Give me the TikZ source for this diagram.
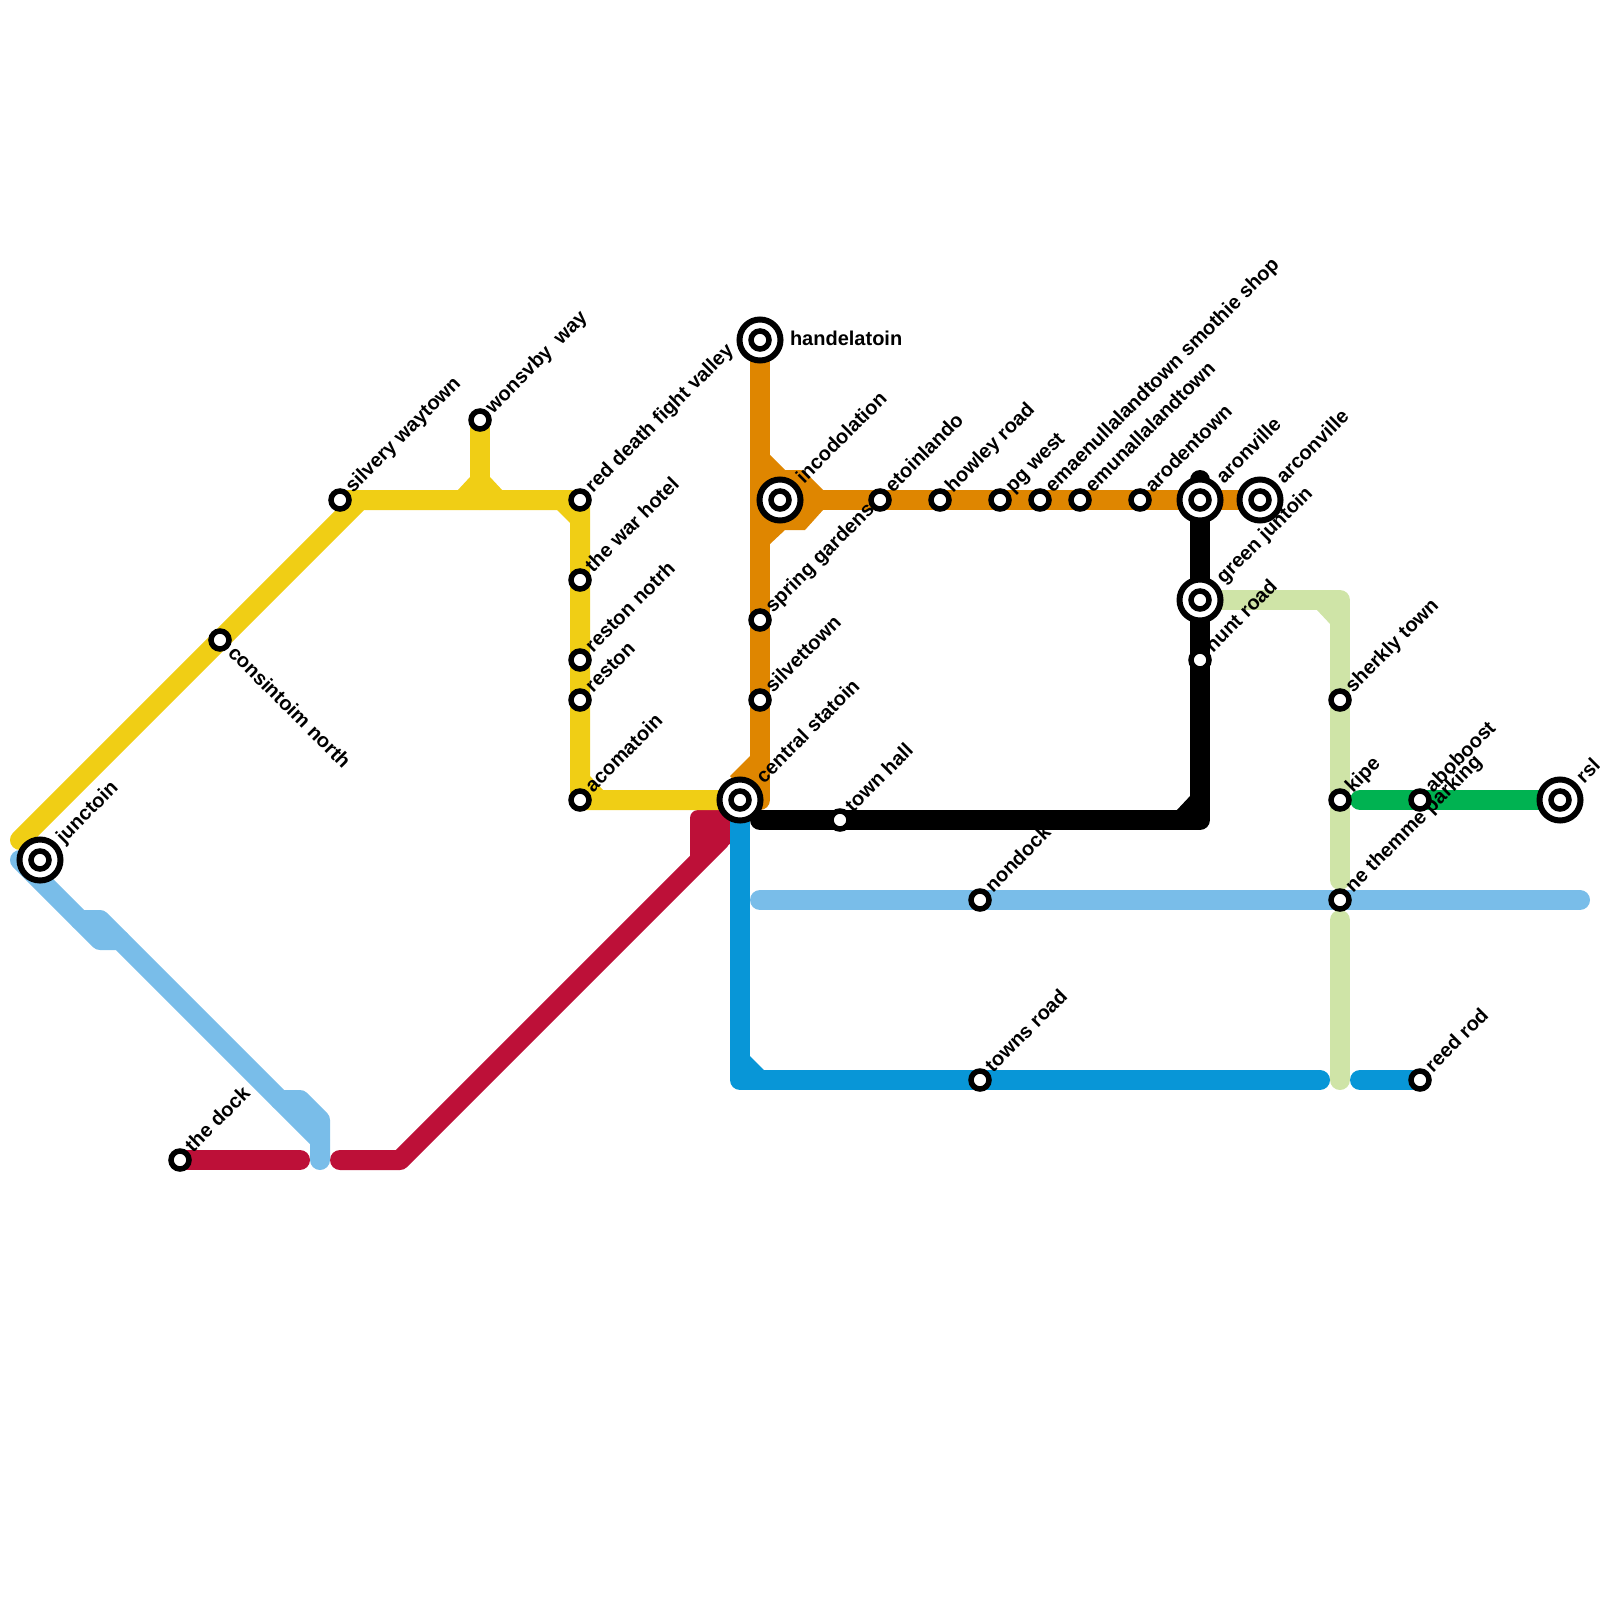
\documentclass[tikz,border=0pt]{standalone}
\usepackage{fontspec}
\setmainfont{Liberation Sans}
\usetikzlibrary{calc}
\definecolor{cred}{HTML}{BD1038}
\definecolor{cyellow}{HTML}{F0CE15}
\definecolor{corange}{HTML}{DF8600}
\definecolor{ccyan}{HTML}{0896D7}
\definecolor{clight}{HTML}{79BDE9}
\definecolor{cpale}{HTML}{CFE4A7}
\definecolor{cgreen}{HTML}{00B251}
\tikzset{
  metro/.style={line width=20pt,line cap=round,line join=round},
  smallstn/.style={circle,draw=black,fill=white,line width=5.5pt,minimum size=18pt,inner sep=0pt,outer sep=0pt},
  bigstn/.style={circle,draw=black,fill=white,line width=6pt,minimum size=41pt,inner sep=0pt,outer sep=0pt},
  lab/.style={anchor=base west,inner sep=0pt,outer sep=0pt,rotate=45,font=\fontsize{20}{24}\selectfont\bfseries},
  labflat/.style={anchor=base west,inner sep=0pt,outer sep=0pt,font=\fontsize{20}{24}\selectfont\bfseries},
}
\begin{document}
\begin{tikzpicture}[x=1pt,y=-1pt]
\useasboundingbox (0,0) rectangle (1600,1600);
% station positions
\foreach \n/\x/\y in {junctoin/40/860,consintoim/220/640,silvery/340/500,wonsvby/480/420,reddeath/580/500,warhotel/580/580,restonn/580/660,reston/580/700,acomatoin/580/800,central/740/800,handelatoin/760/340,incodolation/780/500,spring/760/620,silvettown/760/700,etoinlando/880/500,howley/940/500,pgwest/1000/500,emaen/1040/500,emun/1080/500,arodentown/1140/500,aronville/1200/500,arconville/1260/500,greenj/1200/600,hunt/1200/660,townhall/840/820,nondock/980/900,townsroad/980/1080,sherkly/1340/700,kipe/1340/800,themme/1340/900,aboboost/1420/800,rsl/1560/800,reedrod/1420/1080,dock/180/1160}
  {\coordinate (p\n) at (\x,\y);}
% red
\coordinate (r1) at (300,1160); \coordinate (r2) at (340,1160); \coordinate (r3) at (400,1160); \coordinate (r4) at (720,840);
\draw[metro,cred] (pdock) -- (r1);
\draw[metro,cred] (r2) -- (r3) -- (r4);
\fill[cred] (690,857) {[rounded corners=8pt] -- (690,810) -- (745,810)} -- (745,829) -- (730,844) -- cycle;
% yellow
\coordinate (y0) at (20,840); \coordinate (y1) at (360,500);
\draw[metro,cyellow] (y0) -- (y1) -- (preddeath) -- (pacomatoin) -- (pcentral);
\draw[metro,cyellow] (psilvery) -- (y1);
\draw[metro,cyellow] (pwonsvby) -- (480,500);
\fill[cyellow] (457,491) -- (470,477) -- (490,477) -- (503,491) -- cycle;
\fill[cyellow] (556,509) -- (571,524) -- (571,509) -- cycle;
\fill[cyellow] (589,775) -- (604,791) -- (589,791) -- cycle;
% orange
\draw[metro,corange] (phandelatoin) -- (760,800) -- (pcentral);
\fill[corange] (751,755) -- (730,776) -- (751,800) -- cycle;
\draw[metro,corange] (pincodolation) -- (parconville);
\fill[corange] (760,445) -- (770,455) -- (785,470) -- (803,470) -- (823,490) -- (823,510) -- (805,530) -- (785,530) -- (770,544) -- (760,554) -- cycle;
% pale green
\draw[metro,cpale] (pgreenj) -- (1340,600) -- (1340,880);
\draw[metro,cpale] (1340,920) -- (1340,1080);
\fill[cpale] (1316,609) -- (1331,625) -- (1331,609) -- cycle;
% black
\coordinate (b0) at (1200,480); \coordinate (b1) at (1200,820); \coordinate (b2) at (760,820);
\draw[metro,black] (b0) -- (b1) -- (b2);
\fill[black] (1176,811) -- (1191,795) -- (1191,811) -- cycle;
% cyan
\coordinate (c1) at (740,1080); \coordinate (c2) at (1320,1080); \coordinate (c3) at (1360,1080);
\draw[metro,ccyan] (pcentral) -- (c1) -- (c2);
\draw[metro,ccyan] (c3) -- (preedrod);
\fill[ccyan] (749,1055) -- (765,1071) -- (749,1071) -- cycle;
% light blue
\coordinate (l0) at (20,860); \coordinate (l1) at (100,940); \coordinate (l2) at (120,940);
\coordinate (l3) at (320,1140); \coordinate (l4) at (320,1160);
\draw[metro,clight] (l0) -- (l1) -- (l2) -- (l3) -- (l4);
\draw[metro,clight] (80,920) -- (100,920) -- (l2);
\draw[metro,clight] (280,1100) -- (300,1100) -- (320,1120) -- (l3);
\coordinate (l5) at (760,900); \coordinate (l6) at (1580,900);
\draw[metro,clight] (l5) -- (l6);
% green
\coordinate (g0) at (1360,800);
\draw[metro,cgreen] (g0) -- (prsl);
% big stations outer rings
\foreach \n in {junctoin,central,handelatoin,incodolation,aronville,arconville,greenj,rsl}
  {\node[bigstn] (big\n) at (p\n) {};}
% stations
\foreach \n in {junctoin,consintoim,silvery,wonsvby,reddeath,warhotel,restonn,reston,acomatoin,central,handelatoin,incodolation,spring,silvettown,etoinlando,howley,pgwest,emaen,emun,arodentown,aronville,arconville,greenj,hunt,townhall,nondock,townsroad,sherkly,kipe,themme,aboboost,rsl,reedrod,dock}
  {\node[smallstn] (s\n) at (p\n) {};}
% labels
\node[lab] (tjunctoin) at ($(pjunctoin)+(24,-16)$) {junctoin};
\node[lab,rotate=-90] (tconsintoim) at ($(pconsintoim)+(7,14)$) {consintoim north};
\node[lab] (tsilvery) at ($(psilvery)+(13,-7)$) {silvery waytown};
\node[lab] (twonsvby) at ($(pwonsvby)+(13,-6)$) {wonsvby\ \ way};
\node[lab] (treddeath) at ($(preddeath)+(13,-7)$) {red death fight valley};
\node[lab] (twarhotel) at ($(pwarhotel)+(13,-7)$) {the war hotel};
\node[lab] (trestonn) at ($(prestonn)+(13,-7)$) {reston notrh};
\node[lab] (treston) at ($(preston)+(13,-7)$) {reston};
\node[lab] (tacomatoin) at ($(pacomatoin)+(13,-7)$) {acomatoin};
\node[lab] (tcentral) at ($(pcentral)+(24,-16)$) {central statoin};
\node[labflat] (thandelatoin) at ($(phandelatoin)+(30,5)$) {handelatoin};
\node[lab] (tincodolation) at ($(pincodolation)+(24,-16)$) {incodolation};
\node[lab] (tspring) at ($(pspring)+(13,-7)$) {spring gardens};
\node[lab] (tsilvettown) at ($(psilvettown)+(13,-7)$) {silvettown};
\node[lab] (tetoinlando) at ($(petoinlando)+(13,-7)$) {etoinlando};
\node[lab] (thowley) at ($(phowley)+(13,-7)$) {howley road};
\node[lab] (tpgwest) at ($(ppgwest)+(13,-7)$) {pg west};
\node[lab] (temaen) at ($(pemaen)+(13,-7)$) {emaenullalandtown smothie shop};
\node[lab] (temun) at ($(pemun)+(13,-7)$) {emunallalandtown};
\node[lab] (tarodentown) at ($(parodentown)+(13,-7)$) {arodentown};
\node[lab] (taronville) at ($(paronville)+(24,-16)$) {aronville};
\node[lab] (tarconville) at ($(parconville)+(24,-16)$) {arconville};
\node[lab] (tgreenj) at ($(pgreenj)+(24,-16)$) {green juntoin};
\node[lab] (thunt) at ($(phunt)+(13,-7)$) {hunt road};
\node[lab] (ttownhall) at ($(ptownhall)+(13,-7)$) {town hall};
\node[lab] (tnondock) at ($(pnondock)+(13,-7)$) {nondock};
\node[lab] (ttownsroad) at ($(ptownsroad)+(13,-7)$) {towns road};
\node[lab] (tsherkly) at ($(psherkly)+(13,-7)$) {sherkly town};
\node[lab] (tkipe) at ($(pkipe)+(13,-7)$) {kipe};
\node[lab] (tthemme) at ($(pthemme)+(13,-7)$) {ne themme parking};
\node[lab] (taboboost) at ($(paboboost)+(13,-7)$) {aboboost};
\node[lab] (trsl) at ($(prsl)+(24,-16)$) {rsl};
\node[lab] (treedrod) at ($(preedrod)+(13,-7)$) {reed rod};
\node[lab] (tdock) at ($(pdock)+(13,-7)$) {the dock};
\end{tikzpicture}
\end{document}
